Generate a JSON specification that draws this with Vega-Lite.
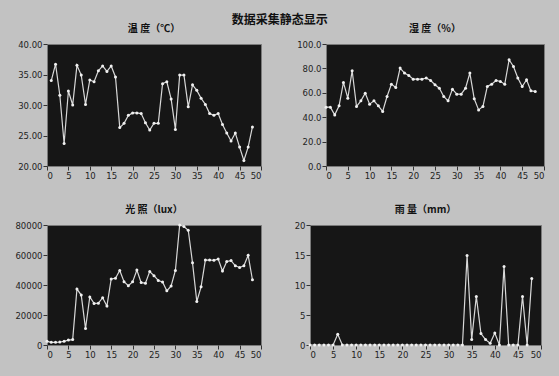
{
  "$schema": "https://vega.github.io/schema/vega-lite/v6.json",
  "background": "#c2c2c2",
  "padding": {"left": 14, "top": 13, "right": 14, "bottom": 21},
  "title": {"text": "数据采集静态显示", "font": "Noto Sans CJK SC", "fontSize": 12, "fontWeight": "bold", "color": "#111111", "anchor": "middle", "offset": -3},
  "config": {
    "view": {"fill": "#161616", "stroke": "#7a7a7a", "strokeWidth": 1},
    "axis": {"labelFont": "DejaVu Sans", "labelFontSize": 8.5, "labelColor": "#222222", "tickColor": "#333333", "tickSize": 4, "domain": false, "grid": false, "title": null, "labelPadding": 1},
    "title": {"font": "Noto Sans CJK SC", "fontSize": 10, "fontWeight": "bold", "color": "#111111", "offset": 6},
    "line": {"color": "#d8d8d8", "strokeWidth": 1.2},
    "point": {"color": "#f0f0f0", "filled": true, "size": 9, "opacity": 1}
  },
  "datasets": {
    "temp": [
      {"x": 1, "v": 34.0}, {"x": 2, "v": 36.7}, {"x": 3, "v": 31.6}, {"x": 4, "v": 23.7}, {"x": 5, "v": 32.3}, {"x": 6, "v": 30.0}, {"x": 7, "v": 36.5}, {"x": 8, "v": 34.9}, {"x": 9, "v": 30.1}, {"x": 10, "v": 34.1},
      {"x": 11, "v": 33.8}, {"x": 12, "v": 35.6}, {"x": 13, "v": 36.4}, {"x": 14, "v": 35.5}, {"x": 15, "v": 36.4}, {"x": 16, "v": 34.6}, {"x": 17, "v": 26.3}, {"x": 18, "v": 27.0}, {"x": 19, "v": 28.3}, {"x": 20, "v": 28.7},
      {"x": 21, "v": 28.7}, {"x": 22, "v": 28.6}, {"x": 23, "v": 27.1}, {"x": 24, "v": 25.9}, {"x": 25, "v": 27.0}, {"x": 26, "v": 27.0}, {"x": 27, "v": 33.5}, {"x": 28, "v": 33.8}, {"x": 29, "v": 31.0}, {"x": 30, "v": 26.0},
      {"x": 31, "v": 34.9}, {"x": 32, "v": 34.9}, {"x": 33, "v": 29.7}, {"x": 34, "v": 33.3}, {"x": 35, "v": 32.4}, {"x": 36, "v": 31.1}, {"x": 37, "v": 30.1}, {"x": 38, "v": 28.6}, {"x": 39, "v": 28.3}, {"x": 40, "v": 28.6},
      {"x": 41, "v": 26.8}, {"x": 42, "v": 25.4}, {"x": 43, "v": 24.1}, {"x": 44, "v": 25.4}, {"x": 45, "v": 23.1}, {"x": 46, "v": 20.9}, {"x": 47, "v": 23.1}, {"x": 48, "v": 26.4}
    ],
    "hum": [
      {"x": 0, "v": 48.2}, {"x": 1, "v": 48.2}, {"x": 2, "v": 41.9}, {"x": 3, "v": 49.3}, {"x": 4, "v": 68.5}, {"x": 5, "v": 55.6}, {"x": 6, "v": 78.1}, {"x": 7, "v": 48.8}, {"x": 8, "v": 53.4}, {"x": 9, "v": 59.7},
      {"x": 10, "v": 50.7}, {"x": 11, "v": 53.4}, {"x": 12, "v": 49.3}, {"x": 13, "v": 44.7}, {"x": 14, "v": 57.0}, {"x": 15, "v": 67.1}, {"x": 16, "v": 64.4}, {"x": 17, "v": 80.3}, {"x": 18, "v": 76.2}, {"x": 19, "v": 74.2},
      {"x": 20, "v": 71.2}, {"x": 21, "v": 71.2}, {"x": 22, "v": 71.2}, {"x": 23, "v": 72.1}, {"x": 24, "v": 70.0}, {"x": 25, "v": 66.6}, {"x": 26, "v": 63.8}, {"x": 27, "v": 57.0}, {"x": 28, "v": 53.4}, {"x": 29, "v": 63.0},
      {"x": 30, "v": 58.9}, {"x": 31, "v": 58.9}, {"x": 32, "v": 63.8}, {"x": 33, "v": 76.2}, {"x": 34, "v": 55.1}, {"x": 35, "v": 46.0}, {"x": 36, "v": 48.8}, {"x": 37, "v": 65.2}, {"x": 38, "v": 67.1}, {"x": 39, "v": 70.1},
      {"x": 40, "v": 69.3}, {"x": 41, "v": 67.1}, {"x": 42, "v": 87.1}, {"x": 43, "v": 81.6}, {"x": 44, "v": 72.1}, {"x": 45, "v": 65.2}, {"x": 46, "v": 70.7}, {"x": 47, "v": 61.6}, {"x": 48, "v": 61.1}
    ],
    "light": [
      {"x": 0, "v": 2440}, {"x": 1, "v": 1800}, {"x": 2, "v": 1800}, {"x": 3, "v": 2000}, {"x": 4, "v": 2440}, {"x": 5, "v": 3300}, {"x": 6, "v": 3600}, {"x": 7, "v": 37300}, {"x": 8, "v": 33300}, {"x": 9, "v": 11000},
      {"x": 10, "v": 32000}, {"x": 11, "v": 27700}, {"x": 12, "v": 27900}, {"x": 13, "v": 31500}, {"x": 14, "v": 26000}, {"x": 15, "v": 44000}, {"x": 16, "v": 44500}, {"x": 17, "v": 49700}, {"x": 18, "v": 42200}, {"x": 19, "v": 39500},
      {"x": 20, "v": 42100}, {"x": 21, "v": 50000}, {"x": 22, "v": 41600}, {"x": 23, "v": 41200}, {"x": 24, "v": 49000}, {"x": 25, "v": 46200}, {"x": 26, "v": 43000}, {"x": 27, "v": 42000}, {"x": 28, "v": 36100}, {"x": 29, "v": 39400},
      {"x": 30, "v": 49700}, {"x": 31, "v": 80000}, {"x": 32, "v": 79000}, {"x": 33, "v": 76500}, {"x": 34, "v": 54800}, {"x": 35, "v": 29000}, {"x": 36, "v": 38800}, {"x": 37, "v": 56600}, {"x": 38, "v": 56600}, {"x": 39, "v": 56500},
      {"x": 40, "v": 57300}, {"x": 41, "v": 49300}, {"x": 42, "v": 55700}, {"x": 43, "v": 56300}, {"x": 44, "v": 52800}, {"x": 45, "v": 51700}, {"x": 46, "v": 52800}, {"x": 47, "v": 59800}, {"x": 48, "v": 43500}
    ],
    "rain": [
      {"x": 0, "v": 0}, {"x": 1, "v": 0}, {"x": 2, "v": 0}, {"x": 3, "v": 0}, {"x": 4, "v": 0}, {"x": 5, "v": 0}, {"x": 6, "v": 1.8}, {"x": 7, "v": 0}, {"x": 8, "v": 0}, {"x": 9, "v": 0},
      {"x": 10, "v": 0}, {"x": 11, "v": 0}, {"x": 12, "v": 0}, {"x": 13, "v": 0}, {"x": 14, "v": 0}, {"x": 15, "v": 0}, {"x": 16, "v": 0}, {"x": 17, "v": 0}, {"x": 18, "v": 0}, {"x": 19, "v": 0},
      {"x": 20, "v": 0}, {"x": 21, "v": 0}, {"x": 22, "v": 0}, {"x": 23, "v": 0}, {"x": 24, "v": 0}, {"x": 25, "v": 0}, {"x": 26, "v": 0}, {"x": 27, "v": 0}, {"x": 28, "v": 0}, {"x": 29, "v": 0},
      {"x": 30, "v": 0}, {"x": 31, "v": 0}, {"x": 32, "v": 0}, {"x": 33, "v": 0}, {"x": 34, "v": 14.9}, {"x": 35, "v": 0.9}, {"x": 36, "v": 8.1}, {"x": 37, "v": 1.9}, {"x": 38, "v": 0.9}, {"x": 39, "v": 0.3},
      {"x": 40, "v": 2.0}, {"x": 41, "v": 0}, {"x": 42, "v": 13.1}, {"x": 43, "v": 0}, {"x": 44, "v": 0}, {"x": 45, "v": 0}, {"x": 46, "v": 8.1}, {"x": 47, "v": 0}, {"x": 48, "v": 11.1}
    ]
  },
  "vconcat": [
    {
      "hconcat": [
        {
          "title": "温 度（℃）",
          "width": 214, "height": 122,
          "data": {"name": "temp"},
          "encoding": {
            "x": {"field": "x", "type": "quantitative", "scale": {"domain": [0, 50]}, "axis": {"values": [0, 5, 10, 15, 20, 25, 30, 35, 40, 45, 50], "format": "d"}},
            "y": {"field": "v", "type": "quantitative", "scale": {"domain": [20, 40]}, "axis": {"values": [20, 25, 30, 35, 40], "format": ".2f"}}
          },
          "layer": [{"mark": "line"}, {"mark": "point"}]
        },
        {
          "title": "湿 度（%）",
          "width": 218, "height": 122,
          "data": {"name": "hum"},
          "encoding": {
            "x": {"field": "x", "type": "quantitative", "scale": {"domain": [0, 50]}, "axis": {"values": [0, 5, 10, 15, 20, 25, 30, 35, 40, 45, 50], "format": "d"}},
            "y": {"field": "v", "type": "quantitative", "scale": {"domain": [0, 100]}, "axis": {"values": [0, 20, 40, 60, 80, 100], "format": ".1f"}}
          },
          "layer": [{"mark": "line"}, {"mark": "point"}]
        }
      ],
      "spacing": 34
    },
    {
      "hconcat": [
        {
          "title": "光 照（lux）",
          "width": 214, "height": 120,
          "data": {"name": "light"},
          "encoding": {
            "x": {"field": "x", "type": "quantitative", "scale": {"domain": [0, 50]}, "axis": {"values": [0, 5, 10, 15, 20, 25, 30, 35, 40, 45, 50], "format": "d"}},
            "y": {"field": "v", "type": "quantitative", "scale": {"domain": [0, 80000]}, "axis": {"values": [0, 20000, 40000, 60000, 80000], "format": "d"}}
          },
          "layer": [{"mark": "line"}, {"mark": "point"}]
        },
        {
          "title": "雨 量（mm）",
          "width": 231, "height": 120,
          "data": {"name": "rain"},
          "encoding": {
            "x": {"field": "x", "type": "quantitative", "scale": {"domain": [0, 50]}, "axis": {"values": [0, 5, 10, 15, 20, 25, 30, 35, 40, 45, 50], "format": "d"}},
            "y": {"field": "v", "type": "quantitative", "scale": {"domain": [0, 20]}, "axis": {"values": [0, 5, 10, 15, 20], "format": "d"}}
          },
          "layer": [{"mark": "line"}, {"mark": "point"}]
        }
      ],
      "spacing": 31
    }
  ],
  "spacing": 24
}
